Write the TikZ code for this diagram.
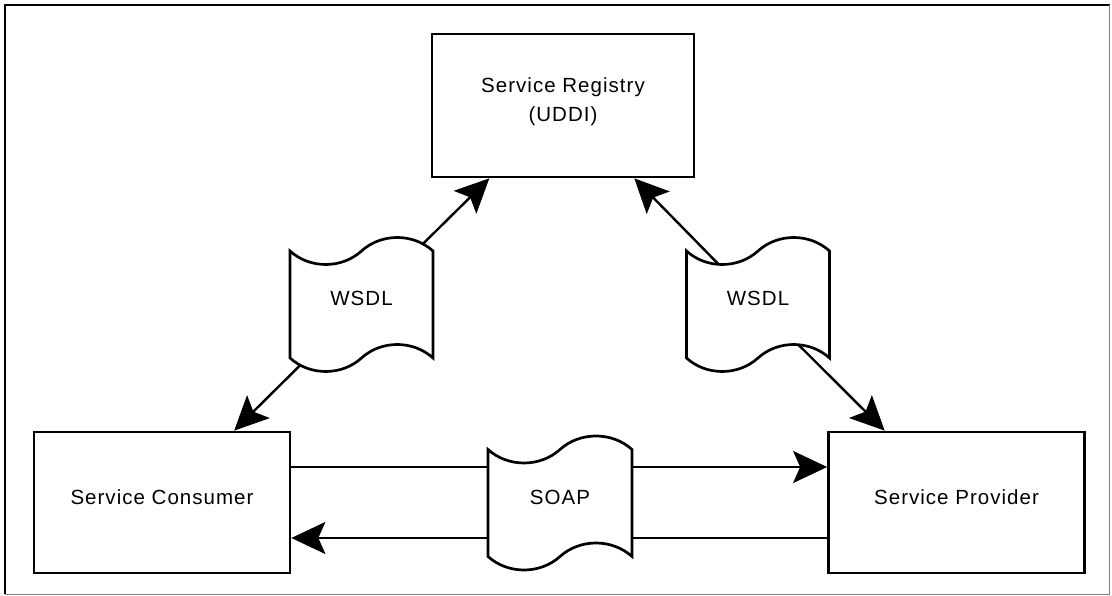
\documentclass[tikz,border=0pt]{standalone}
\usepackage{fontspec}
\setmainfont{Liberation Sans}[LetterSpace=5]
\usetikzlibrary{arrows.meta}
\usetikzlibrary{shapes.symbols}
\tikzset{>={Stealth[length=34pt, width=32pt, inset=7pt]}}
\pgfdeclarelayer{bg}
\pgfsetlayers{bg,main}
\tikzset{
    box/.style={draw, line width=2.7pt, fill=white, minimum width=256pt, minimum height=141pt,
        inner sep=0pt, text height=15pt, text depth=12pt, align=center,
        font=\fontsize{20.5}{29}\selectfont},
    doc/.style={tape, draw, line width=2.7pt, fill=white, minimum width=143pt, minimum height=134pt,
        tape bend height=27pt, inner sep=0pt, text height=15pt, text depth=12pt,
        font=\fontsize{20.5}{29}\selectfont},
    link/.style={line width=2.4pt, ->},
}

\begin{document}
\begin{tikzpicture}[x=1pt, y=-1pt]
    \useasboundingbox (0, 0) rectangle (1112, 596);
    \draw [line width=2.5pt] (5, 594) -- (5, 5) -- (1109.5, 5);
    \draw [gray, line width=1pt] (5, 594.5) -- (1109.5, 594.5) -- (1109.5, 5);

    \node [box, minimum width=262pt, minimum height=143pt, text height=44pt] (registry) at (563, 105.5) {Service Registry\\(UDDI)};
    \node [box] (consumer) at (162, 502.5) {Service Consumer};
    \node [box] (provider) at (956.5, 502.5) {Service Provider};

    \node [doc] (wsdlL) at (361.5, 304.5) {WSDL};
    \node [doc] (wsdlR) at (758, 304.5) {WSDL};
    \node [doc, minimum width=144pt] (soap) at (560, 503) {SOAP};

    \begin{pgfonlayer}{bg}
        \draw [link] (wsdlL.center) -- (registry);
        \draw [link] (wsdlL.center) -- (consumer);
        \draw [link] (wsdlR.center) -- (registry);
        \draw [link] (wsdlR.center) -- (provider);
        \draw [link] ([yshift=35.5pt]consumer.east) -- ([yshift=35.5pt]provider.west);
        \draw [link] ([yshift=-35.5pt]provider.west) -- ([yshift=-35.5pt]consumer.east);
    \end{pgfonlayer}
\end{tikzpicture}
\end{document}
